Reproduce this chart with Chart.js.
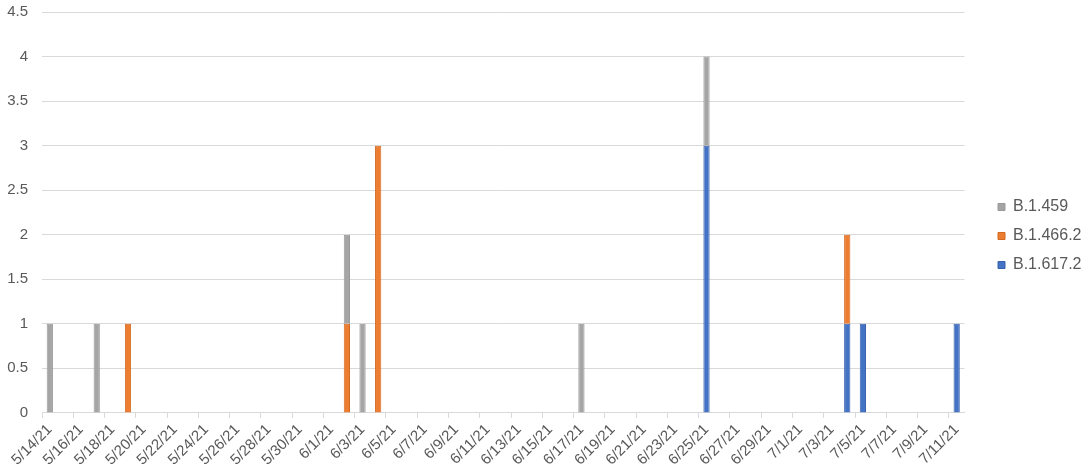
<!DOCTYPE html>
<html>
<head>
<meta charset="utf-8">
<script src="https://cdn.jsdelivr.net/npm/chart.js@4/dist/chart.umd.min.js"></script>
<style>
html,body{margin:0;padding:0;background:#fff;}
#wrap{width:1084px;height:475px;position:relative;}
</style>
</head>
<body>
<div id="wrap"><canvas id="c"></canvas></div>
<script>
const _ = null;
const categories = [
  '5/14/21','5/15/21','5/16/21','5/17/21','5/18/21','5/19/21','5/20/21','5/21/21','5/22/21','5/23/21',
  '5/24/21','5/25/21','5/26/21','5/27/21','5/28/21','5/29/21','5/30/21','5/31/21','6/1/21','6/2/21',
  '6/3/21','6/4/21','6/5/21','6/6/21','6/7/21','6/8/21','6/9/21','6/10/21','6/11/21','6/12/21',
  '6/13/21','6/14/21','6/15/21','6/16/21','6/17/21','6/18/21','6/19/21','6/20/21','6/21/21','6/22/21',
  '6/23/21','6/24/21','6/25/21','6/26/21','6/27/21','6/28/21','6/29/21','6/30/21','7/1/21','7/2/21',
  '7/3/21','7/4/21','7/5/21','7/6/21','7/7/21','7/8/21','7/9/21','7/10/21','7/11/21'
];
const seriesNames = ['B.1.617.2','B.1.466.2','B.1.459'];
const b16172 = [
  _,_,_,_,_,_,_,_,_,_,
  _,_,_,_,_,_,_,_,_,_,
  _,_,_,_,_,_,_,_,_,_,
  _,_,_,_,_,_,_,_,_,_,
  _,_,3,_,_,_,_,_,_,_,
  _,1,1,_,_,_,_,_,1
];
const b14662 = [
  _,_,_,_,_,1,_,_,_,_,
  _,_,_,_,_,_,_,_,_,1,
  _,3,_,_,_,_,_,_,_,_,
  _,_,_,_,_,_,_,_,_,_,
  _,_,_,_,_,_,_,_,_,_,
  _,1,_,_,_,_,_,_,_
];
const b1459 = [
  1,_,_,1,_,_,_,_,_,_,
  _,_,_,_,_,_,_,_,_,1,
  1,_,_,_,_,_,_,_,_,_,
  _,_,_,_,1,_,_,_,_,_,
  _,_,1,_,_,_,_,_,_,_,
  _,_,_,_,_,_,_,_,_
];
const yTicks = [0,0.5,1,1.5,2,2.5,3,3.5,4,4.5];

const FONT = "'Liberation Sans', Arial, Helvetica, sans-serif";
const TXT = '#595959';
const GRID = '#d9d9d9';

const legendShift = {
  id: 'legendShift',
  afterLayout(chart) {
    const l = chart.legend;
    if (l) { const d = 998 - (l.left + 13); l.left += d; l.right += d; }
  }
};

new Chart(document.getElementById('c'), {
  type: 'bar',
  data: {
    labels: categories,
    datasets: [
      { label: seriesNames[0], data: b16172, backgroundColor: '#4472C4', borderColor: '#3A63AE', borderWidth: 1 },
      { label: seriesNames[1], data: b14662, backgroundColor: '#ED7D31', borderColor: '#D46A22', borderWidth: 1 },
      { label: seriesNames[2], data: b1459,  backgroundColor: '#A5A5A5', borderColor: '#999999', borderWidth: 1 }
    ]
  },
  options: {
    responsive: true,
    maintainAspectRatio: false,
    animation: false,
    layout: { padding: { top: 0, left: 7, bottom: 3, right: 13 } },
    datasets: { bar: { barPercentage: 0.4, categoryPercentage: 1.0 } },
    plugins: {
      tooltip: { enabled: false },
      legend: {
        position: 'right',
        reverse: true,
        labels: {
          boxWidth: 7, boxHeight: 7, padding: 13,
          color: TXT, font: { family: FONT, size: 16 }
        }
      }
    },
    scales: {
      x: {
        stacked: true,
        offset: true,
        afterFit: (s) => { s.paddingLeft = 0; s.paddingRight = 0; },
        grid: {
          offset: true,
          drawOnChartArea: false,
          drawTicks: true,
          tickLength: 5,
          color: (ctx) => (ctx.index !== undefined && ctx.index % 2 === 0) ? GRID : 'rgba(0,0,0,0)'
        },
        border: { display: true, color: GRID, width: 1 },
        ticks: {
          autoSkip: false,
          minRotation: 45, maxRotation: 45,
          padding: 3,
          color: TXT,
          font: { family: FONT, size: 15 },
          callback: function(v, i) { return i % 2 === 0 ? categories[i] : ''; }
        }
      },
      y: {
        stacked: true,
        min: 0, max: 4.5,
        afterBuildTicks: (s) => { s.ticks = yTicks.map(v => ({ value: v })); },
        afterFit: (s) => { s.paddingTop = 12; s.paddingBottom = 0; s.width = 35; },
        grid: { color: GRID, drawTicks: false },
        border: { display: false },
        ticks: {
          padding: 14,
          color: TXT,
          font: { family: FONT, size: 15 },
          callback: (v) => String(v)
        }
      }
    }
  },
  plugins: [legendShift]
});
</script>
</body>
</html>
